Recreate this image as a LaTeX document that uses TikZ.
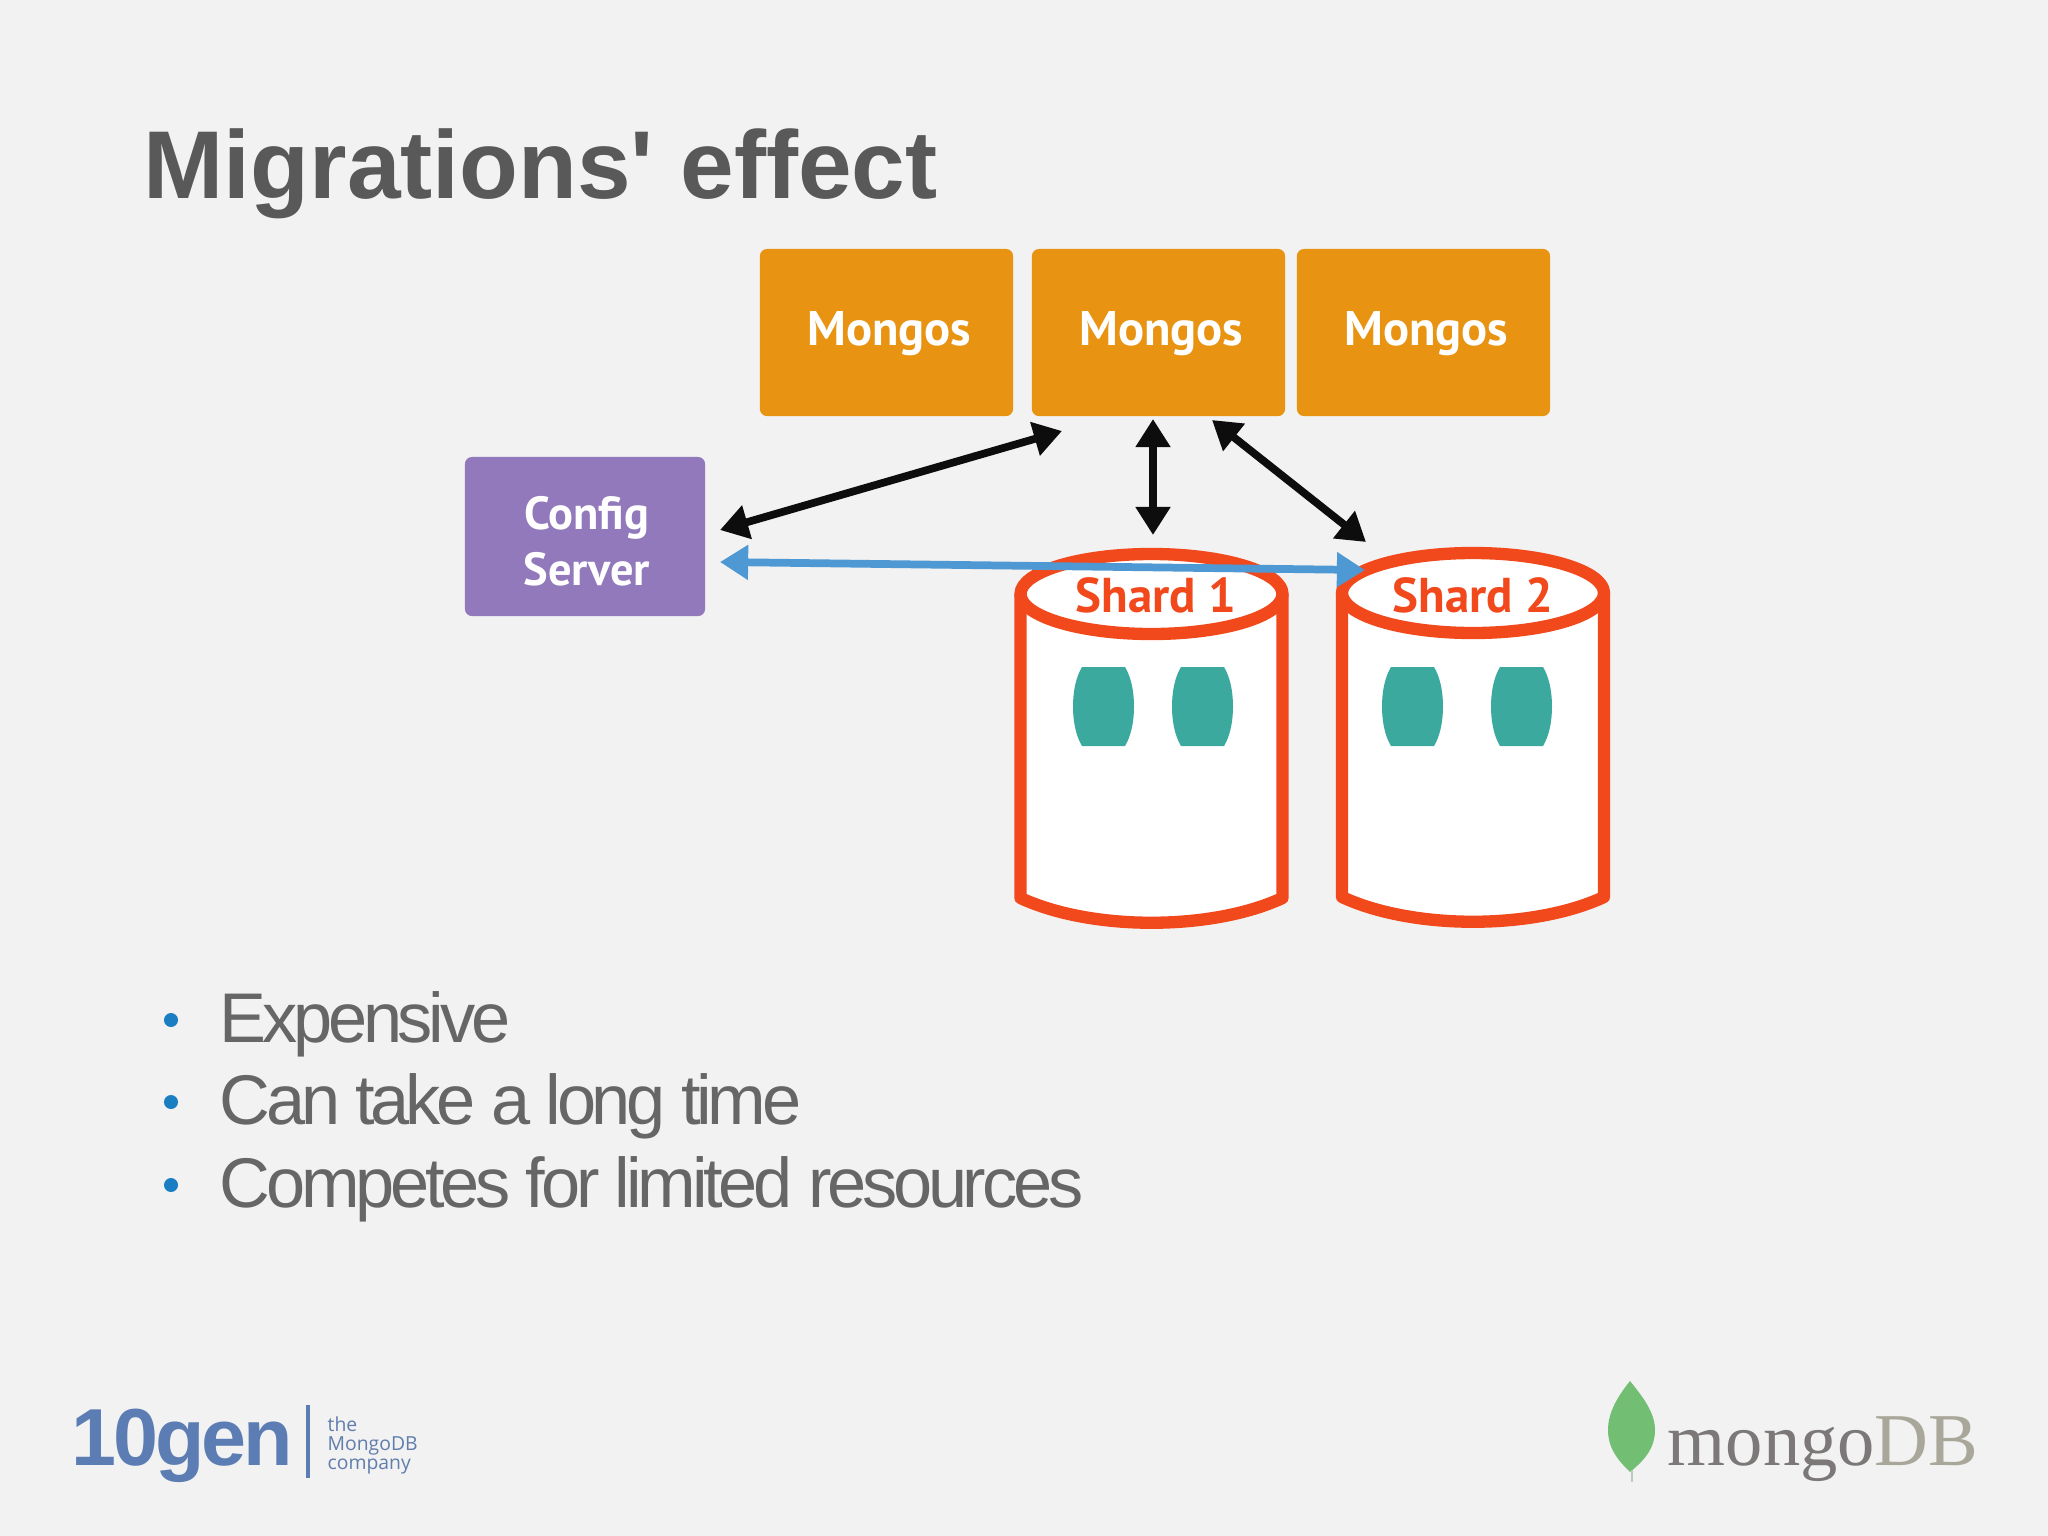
\documentclass[tikz,border=0pt]{standalone}
\usepackage{fontspec}
\setmainfont{Liberation Sans}
\newfontfamily\boxfont{PT Sans}[BoldFont={PT Sans Bold}]
\newfontfamily\logoserif{Liberation Serif}
\newfontfamily\smalllogo{Open Sans}
\usetikzlibrary{arrows.meta}
\definecolor{slidebg}{HTML}{F2F2F2}
\definecolor{titlegray}{HTML}{595959}
\definecolor{bodygray}{HTML}{666666}
\definecolor{mongosorange}{HTML}{E99312}
\definecolor{configpurple}{HTML}{9279BC}
\definecolor{shardred}{HTML}{F1481C}
\definecolor{chunkteal}{HTML}{3BA99E}
\definecolor{migrateblue}{HTML}{4E98D3}
\definecolor{bulletblue}{HTML}{1B7EC2}
\definecolor{genblue}{HTML}{5B7DB4}
\definecolor{leafgreen}{HTML}{72BE72}
\definecolor{mongogray}{HTML}{7C7878}
\definecolor{dbtan}{HTML}{A9A799}
\tikzset{
    routerbox/.style={fill=mongosorange,rounded corners=2pt,minimum width=2.53cm,minimum height=1.67cm,inner sep=0pt,text=white,text height=12pt,text depth=4.5pt,execute at begin node=\hspace*{1.5pt},font=\boxfont\bfseries\fontsize{13.8}{16}\selectfont},
    configbox/.style={fill=configpurple,rounded corners=2pt,minimum width=2.4cm,minimum height=1.59cm,inner sep=0pt,text=white,align=center,font=\boxfont\bfseries\fontsize{13.2}{15.8}\selectfont},
    shardlabel/.style={inner sep=0pt,text=shardred,font=\boxfont\bfseries\fontsize{13.9}{16}\selectfont},
    canline/.style={draw=shardred,line width=3.5pt,fill=white,line join=round},
    chunk/.style={fill=chunkteal},
    bothways/.style={{Triangle[length=8pt,width=9.5pt]}-{Triangle[length=8pt,width=9.5pt]},line width=2.2pt,black!95},
    migration/.style={{Triangle[length=8pt,width=9.5pt]}-{Triangle[length=8pt,width=9.5pt]},line width=2.2pt,migrateblue},
    bullettext/.style={anchor=base west,inner sep=0pt,text=bodygray,font=\addfontfeature{LetterSpace=-6}\fontsize{20}{24}\selectfont},
    bulletdot/.style={circle,fill=bulletblue,minimum size=0.14cm,inner sep=0pt},
}
\newcommand{\shardcan}[3]{
    \draw[canline] (#1-131,#2) -- (#1-131,#3) .. controls (#1-60,#3+33) and (#1+60,#3+33) .. (#1+131,#3) -- (#1+131,#2);
    \draw[canline] (#1,#2) ellipse [x radius=131,y radius=40];
}
\newcommand{\datachunk}[1]{
    \fill[chunk,shift={(#1,667)}] (9,0) -- (52,0) .. controls (58,10) and (61,24) .. (61,39.5) .. controls (61,55) and (58,69) .. (52,79) -- (9,79) .. controls (3,69) and (0,55) .. (0,39.5) .. controls (0,24) and (3,10) .. (9,0) -- cycle;
}
\begin{document}
\begin{tikzpicture}[x=0.01cm,y=-0.01cm]
    \fill[slidebg] (0,0) rectangle (2048,1536);
    \useasboundingbox (0,0) rectangle (2048,1536);
    \node[anchor=base west,inner sep=0pt,text=titlegray,font=\bfseries\fontsize{27.4}{32}\selectfont] (title) at (143,198) {Migrations\textquotesingle{} effect};

    \node[routerbox] (mongosa) at (886.5,332.5) {Mongos};
    \node[routerbox] (mongosb) at (1158.5,332.5) {Mongos};
    \node[routerbox] (mongosc) at (1423.5,332.5) {Mongos};
    \node[configbox] (config) at (585,536.5) {\rule{0pt}{12pt}\hspace*{1pt}Config\\\hspace*{1pt}Server};

    \shardcan{1151.5}{594}{898}
    \shardcan{1473}{593}{897}
    \node[shardlabel] (shardone) at (1156,595) {Shard 1};
    \node[shardlabel] (shardtwo) at (1473,595) {Shard 2};
    \datachunk{1073}
    \datachunk{1172}
    \datachunk{1382}
    \datachunk{1491}

    \coordinate (cfgup) at (720,530);
    \coordinate (cfgside) at (720,562);
    \coordinate (mongosleft) at (1062,431);
    \coordinate (mongosdown) at (1153,419);
    \coordinate (mongosright) at (1212,420);
    \coordinate (shardonetop) at (1153,535);
    \coordinate (shardtwotop) at (1366,542);
    \coordinate (shardtwoside) at (1365,570);
    \draw[bothways] (cfgup) -- (mongosleft);
    \draw[bothways] (mongosdown) -- (shardonetop);
    \draw[bothways] (mongosright) -- (shardtwotop);
    \draw[migration] (cfgside) -- (shardtwoside);

    \foreach \n/\y/\t in {1/1042/Expensive,2/1124/Can take a long time,3/1207/Competes for limited resources}{
        \node[bullettext] (item\n) at (219,\y) {\t};
        \node[bulletdot] (dot\n) at (171,\y-22) {};
    }

    \node[anchor=base west,inner sep=0pt,text=genblue,font=\bfseries\addfontfeature{LetterSpace=-4}\fontsize{23}{28}\selectfont] (tengen) at (71,1465) {10gen};
    \draw[genblue,line width=1pt] (308,1405) -- (308,1478);
    \node[anchor=north west,inner sep=0pt,align=left,text=genblue!85!gray,font=\smalllogo\fontsize{5.5}{5.4}\selectfont] (company) at (327,1416) {the\\MongoDB\\company};

    \fill[leafgreen] (1630,1381) .. controls (1618,1396) and (1608,1412) .. (1608,1430) .. controls (1608,1450) and (1620,1462) .. (1630,1472) .. controls (1642,1462) and (1655,1450) .. (1655,1430) .. controls (1655,1412) and (1642,1396) .. (1630,1381) -- cycle;
    \draw[leafgreen!40!gray!50,line width=0.8pt] (1632,1470) -- (1632,1482);
    \node[anchor=base west,inner sep=0pt,font=\logoserif\fontsize{21.2}{24}\selectfont] (mongodb) at (1667,1465) {\textcolor{mongogray}{mongo}\textcolor{dbtan}{DB}};
\end{tikzpicture}
\end{document}
